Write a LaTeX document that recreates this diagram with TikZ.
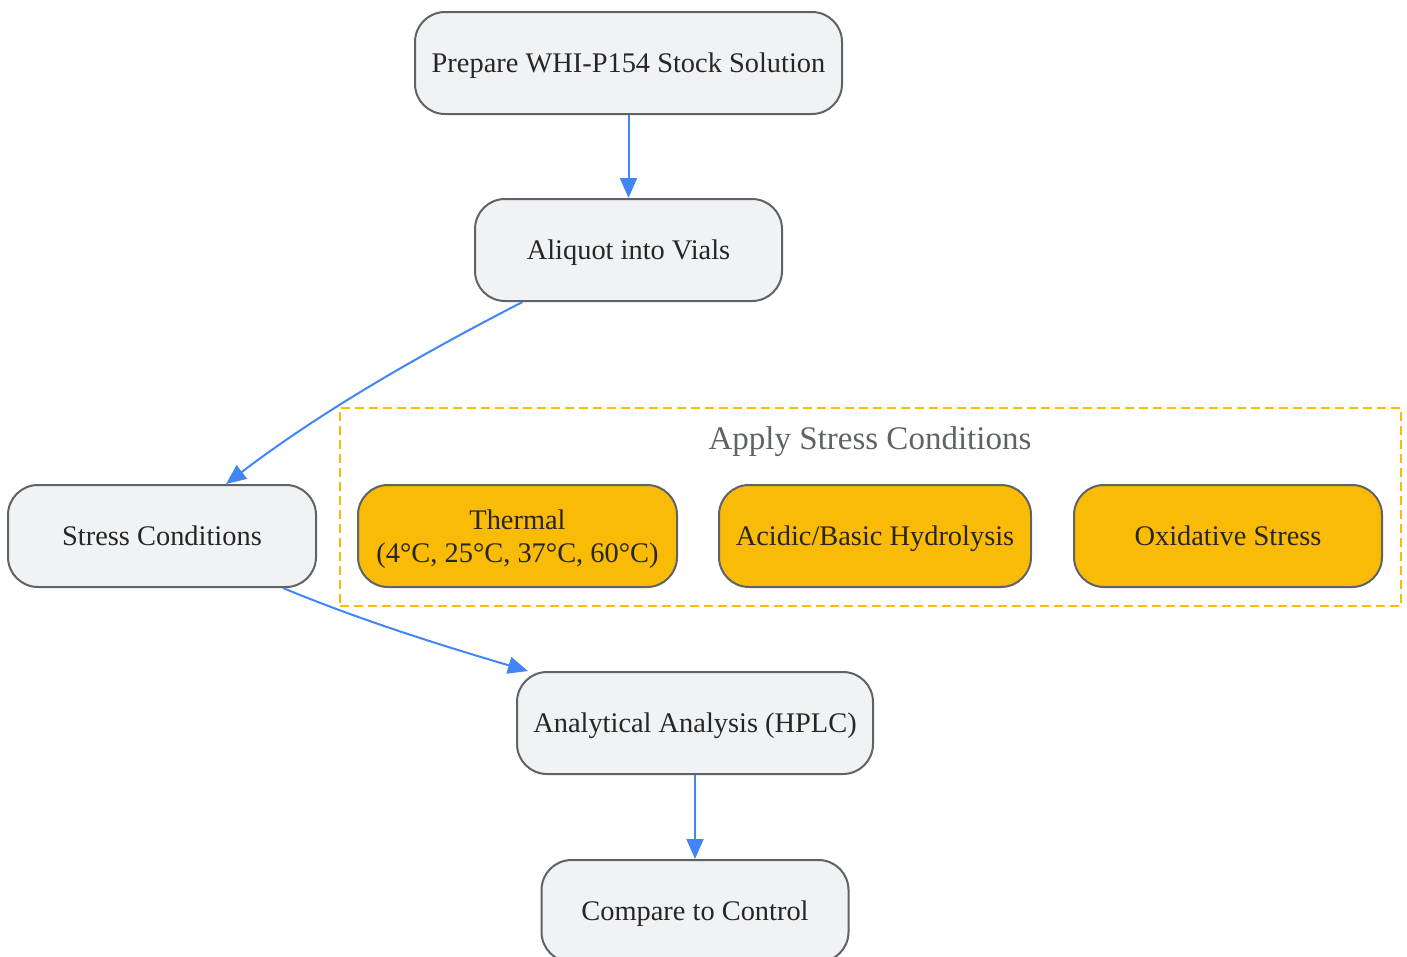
\documentclass[tikz,border=0pt]{standalone}
\usepackage{fontspec}
\setmainfont{Liberation Serif}
\usetikzlibrary{arrows.meta}
\definecolor{nodefill}{HTML}{F1F2F4}
\definecolor{nodeline}{HTML}{5F6368}
\definecolor{edgeblue}{HTML}{4285F4}
\definecolor{stressyellow}{HTML}{F9BB06}
\tikzset{
  box/.style={draw=nodeline, line width=2pt, fill=nodefill, rounded corners=30pt,
    minimum height=102pt, align=center, text=black!85,
    font=\fontsize{28.4}{33}\selectfont, inner sep=0pt,
    text height=25.3pt, text depth=6.1pt},
  ybox/.style={box, fill=stressyellow},
  edge/.style={draw=edgeblue, line width=2pt, -{Triangle[length=20pt,width=17pt]}},
  group/.style={draw=stressyellow, line width=2pt, dash pattern=on 9pt off 5pt},
}
\begin{document}
\begin{tikzpicture}[x=1pt,y=-1pt]
\useasboundingbox (0,0) rectangle (1407,956);
\node[group, minimum width=1061pt, minimum height=198pt, inner sep=0pt] (grp) at (870.5,507) {};
\node[text=nodeline, font=\fontsize{33}{38}\selectfont, text height=29.4pt, text depth=7.1pt, inner sep=0pt] (title) at (870,438) {Apply Stress Conditions};
\node[box, minimum width=427pt] (prep) at (628.5,63) {Prepare WHI-P154 Stock Solution};
\node[box, minimum width=307pt] (aliq) at (628.5,250) {Aliquot into Vials};
\node[box, minimum width=308pt] (stress) at (162,536) {Stress Conditions};
\node[ybox, minimum width=319pt, text height=58.3pt] (therm) at (517.5,536) {Thermal\\(4°C, 25°C, 37°C, 60°C)};
\node[ybox, minimum width=312pt] (acid) at (875,536) {Acidic/Basic Hydrolysis};
\node[ybox, minimum width=308pt] (oxid) at (1228,536) {Oxidative Stress};
\node[box, minimum width=356pt] (hplc) at (695,723) {Analytical Analysis (HPLC)};
\node[box, minimum width=307pt] (comp) at (695,911) {Compare to Control};
\draw[edge] (prep.south) -- (aliq.north);
\draw[edge] (aliq.south) ++(-106,0) coordinate (a1) (a1) .. controls (400,365) and (310,420) .. (stress.north -| 226,0);
\draw[edge] (stress.south) ++(121,0) coordinate (s1) (s1) .. controls (360,620) and (440,645) .. (hplc.north -| 528,0);
\draw[edge] (hplc.south) -- (comp.north);
\end{tikzpicture}
\end{document}
